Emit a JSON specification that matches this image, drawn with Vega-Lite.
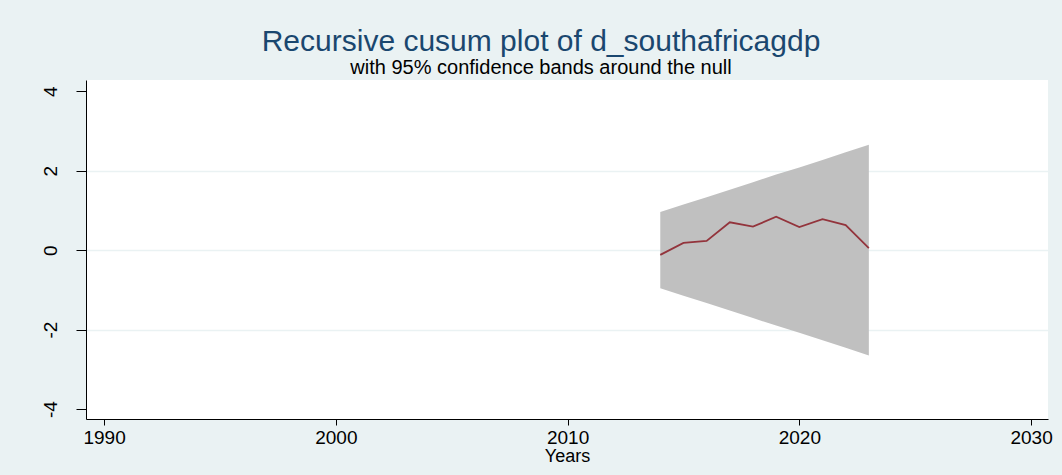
{
  "$schema": "https://vega.github.io/schema/vega-lite/v6.json",
  "autosize": {"type": "none"},
  "width": 962,
  "height": 339,
  "padding": {"left": 86, "top": 80, "right": 14, "bottom": 56},
  "background": "#EAF2F3",
  "config": {
    "font": "Liberation Sans",
    "view": {"fill": "#FFFFFF", "stroke": null}
  },
  "title": {
    "text": "Recursive cusum plot of d_southafricagdp",
    "subtitle": "with 95% confidence bands around the null",
    "anchor": "middle",
    "dx": -26,
    "font": "Liberation Sans",
    "fontSize": 30,
    "fontWeight": "normal",
    "color": "#1A476F",
    "subtitleFont": "Liberation Sans",
    "subtitleFontSize": 20,
    "subtitleColor": "#000000",
    "subtitlePadding": 1,
    "offset": 2
  },
  "data": {
    "values": [
      {"year": 2014, "cusum": -0.12, "lower": -0.96, "upper": 0.96},
      {"year": 2015, "cusum": 0.18, "lower": -1.15, "upper": 1.15},
      {"year": 2016, "cusum": 0.23, "lower": -1.33, "upper": 1.33},
      {"year": 2017, "cusum": 0.70, "lower": -1.52, "upper": 1.52},
      {"year": 2018, "cusum": 0.59, "lower": -1.71, "upper": 1.71},
      {"year": 2019, "cusum": 0.84, "lower": -1.90, "upper": 1.90},
      {"year": 2020, "cusum": 0.58, "lower": -2.08, "upper": 2.08},
      {"year": 2021, "cusum": 0.78, "lower": -2.27, "upper": 2.27},
      {"year": 2022, "cusum": 0.63, "lower": -2.46, "upper": 2.46},
      {"year": 2023, "cusum": 0.05, "lower": -2.65, "upper": 2.65}
    ]
  },
  "encoding": {
    "x": {
      "field": "year",
      "type": "quantitative",
      "scale": {"domain": [1989.22, 2030.73], "nice": false, "zero": false},
      "axis": {
        "title": "Years",
        "values": [1990, 2000, 2010, 2020, 2030],
        "labelExpr": "'' + datum.value",
        "grid": false,
        "domainColor": "#000000",
        "domainWidth": 1,
        "tickColor": "#000000",
        "tickSize": 6,
        "labelFontSize": 19,
        "labelColor": "#000000",
        "labelPadding": 3,
        "labelFlush": false,
        "titleFontSize": 18,
        "titleFontWeight": "normal",
        "titleColor": "#000000",
        "titlePadding": 0
      }
    }
  },
  "layer": [
    {
      "mark": {"type": "area", "color": "#C0C0C0", "opacity": 1},
      "encoding": {
        "y": {
          "field": "upper",
          "type": "quantitative",
          "scale": {"domain": [-4.25, 4.28], "nice": false, "zero": false},
          "axis": {
            "title": null,
            "values": [-4, -2, 0, 2, 4],
            "labelExpr": "'' + datum.value",
            "grid": true,
            "gridColor": "#EAF2F3",
            "gridWidth": 1.5,
            "gridOpacity": {"condition": {"test": "abs(datum.value) > 3", "value": 0}, "value": 1},
            "domainColor": "#000000",
            "domainWidth": 1,
            "tickColor": "#000000",
            "tickSize": 10,
            "labelAngle": -90,
            "labelAlign": "center",
            "labelBaseline": "bottom",
            "labelFontSize": 19,
            "labelColor": "#000000",
            "labelPadding": 16,
            "labelFlush": false
          }
        },
        "y2": {"field": "lower"}
      }
    },
    {
      "mark": {"type": "line", "color": "#93343C", "strokeWidth": 1.8},
      "encoding": {
        "y": {"field": "cusum", "type": "quantitative"}
      }
    }
  ]
}
